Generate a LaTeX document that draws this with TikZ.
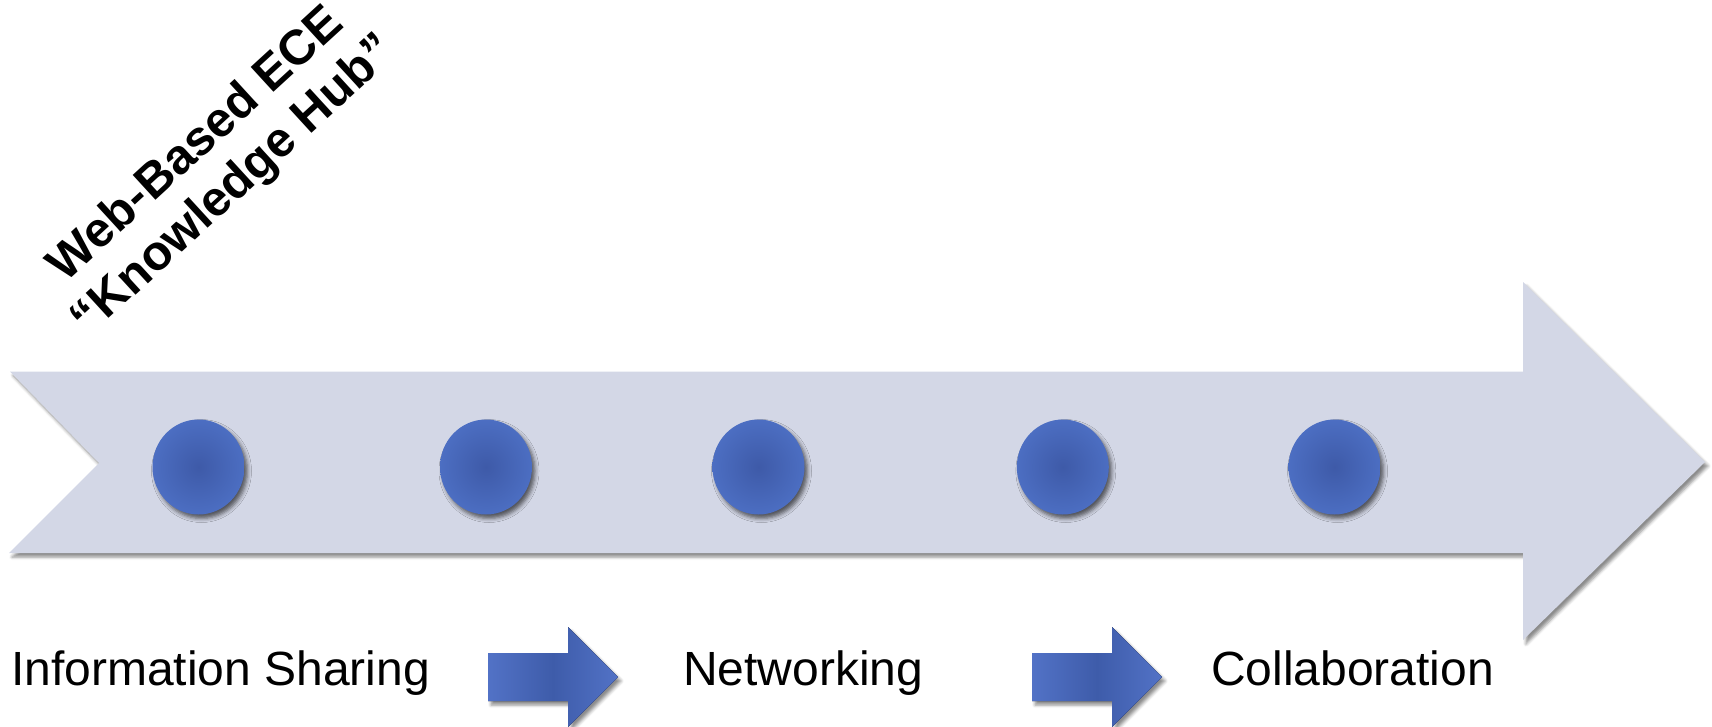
\documentclass[tikz,border=0pt]{standalone}
\usepackage{fontspec}
\setmainfont{Liberation Sans}
\usetikzlibrary{shapes.geometric,shadows.blur}
\definecolor{band}{RGB}{211,215,230}
\definecolor{dotin}{RGB}{62,90,168}
\definecolor{dotout}{RGB}{76,110,194}
\definecolor{arrL}{RGB}{82,114,198}
\definecolor{arrM}{RGB}{62,92,170}
\begin{document}
\begin{tikzpicture}[x=1pt,y=-1pt,
  dot/.style={ellipse, minimum width=92pt, minimum height=95pt, inner sep=0pt,
    inner color=dotin, outer color=dotout,
    blur shadow={shadow xshift=3pt, shadow yshift=-4pt, shadow blur radius=4pt, shadow opacity=60}},
  lbl/.style={anchor=base west, inner sep=0pt, font=\fontsize{48}{57}\selectfont},
  title/.style={align=center, inner sep=0pt, rotate=42.5,
    font=\fontsize{49}{56}\selectfont\bfseries},
  bandshadow/.style={blur shadow={shadow xshift=3pt, shadow yshift=-4pt, shadow blur radius=3pt, shadow opacity=45}},
  smallarrow/.style={left color=arrL, right color=arrL, middle color=arrM,
    blur shadow={shadow xshift=3pt, shadow yshift=-4pt, shadow blur radius=3pt, shadow opacity=45}}
]
\useasboundingbox (0,0) rectangle (1712,727);
% big band arrow
\fill[band, bandshadow] (10,371.5) -- (1523,371.5) -- (1523,282) -- (1705,462)
  -- (1523,640) -- (1523,553) -- (9,553) -- (99,463) -- cycle;
% dots
\node[dot] (d1) at (198.5,467) {};
\node[dot] (d2) at (486,467) {};
\node[dot] (d3) at (758.5,467) {};
\node[dot] (d4) at (1062.8,467) {};
\node[dot] (d5) at (1334.5,467) {};
% small arrows
\fill[smallarrow] (488,653) -- (568,653) -- (568,627) -- (618,677) -- (568,727)
  -- (568,701) -- (488,701) -- cycle;
\fill[smallarrow] (1032,653) -- (1112,653) -- (1112,627) -- (1162,677) -- (1112,727)
  -- (1112,701) -- (1032,701) -- cycle;
% labels
\node[lbl] (info) at (11,685) {Information Sharing};
\node[lbl] (net) at (683,685) {Networking};
\node[lbl] (coll) at (1211,685) {Collaboration};
% rotated title
\node[title] (title) at (216,166) {Web-Based ECE\\“Knowledge Hub”};
\end{tikzpicture}
\end{document}
